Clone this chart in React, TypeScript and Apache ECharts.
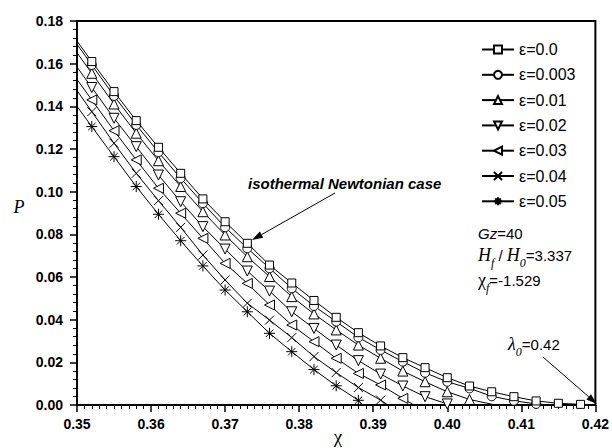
import React, { useEffect, useRef } from "react";
import * as echarts from "echarts";

// χ positions of the markers
const CHI = [0.352, 0.355, 0.358, 0.361, 0.364, 0.367, 0.370, 0.373, 0.376, 0.379, 0.382, 0.385,
  0.388, 0.391, 0.394, 0.397, 0.400, 0.403, 0.406, 0.409, 0.412, 0.415, 0.418];

const NAMES = ["ε=0.0", "ε=0.003", "ε=0.01", "ε=0.02", "ε=0.03", "ε=0.04", "ε=0.05"];

const P_E000 = [0.1610, 0.1469, 0.1333, 0.1208, 0.1086, 0.0966, 0.0859, 0.0758, 0.0656, 0.0572, 0.0490, 0.0411,
  0.0339, 0.0277, 0.0222, 0.0175, 0.0128, 0.0089, 0.0062, 0.0039, 0.0019, 0.0008, 0.0003];
const P_E003 = [0.1594, 0.1449, 0.1313, 0.1185, 0.1063, 0.0946, 0.0833, 0.0735, 0.0641, 0.0547, 0.0464, 0.0391,
  0.0317, 0.0258, 0.0203, 0.0151, 0.0109, 0.0078, 0.0041, 0.0020, 0.0005];
const P_E010 = [0.1555, 0.1411, 0.1274, 0.1145, 0.1024, 0.0906, 0.0797, 0.0695, 0.0602, 0.0508, 0.0427, 0.0352,
  0.0281, 0.0219, 0.0159, 0.0109, 0.0062, 0.0026];
const P_E020 = [0.1488, 0.1344, 0.1211, 0.1078, 0.0953, 0.0836, 0.0731, 0.0628, 0.0534, 0.0437, 0.0359, 0.0281,
  0.0208, 0.0145, 0.0089, 0.0039, 0.0005];
const P_E030 = [0.1430, 0.1286, 0.1149, 0.1016, 0.0899, 0.0781, 0.0664, 0.0570, 0.0469, 0.0375, 0.0297, 0.0219,
  0.0148, 0.0094, 0.0031];
const P_E040 = [0.1375, 0.1227, 0.1086, 0.0958, 0.0833, 0.0703, 0.0586, 0.0477, 0.0398, 0.0316, 0.0227, 0.0152,
  0.0082, 0.0023];
const P_E050 = [0.1305, 0.1164, 0.1024, 0.0894, 0.0770, 0.0652, 0.0539, 0.0437, 0.0336, 0.0250, 0.0166, 0.0090,
  0.0022];

const VALUES = [P_E000, P_E003, P_E010, P_E020, P_E030, P_E040, P_E050];
// curve value at the left edge χ = 0.35 (no marker there)
const START_P = [0.1706, 0.1691, 0.1651, 0.1584, 0.1526, 0.1474, 0.1400];
// χ where each curve reaches P = 0
const END_CHI = [0.420, 0.4140, 0.4065, 0.4010, 0.3955, 0.3920, 0.3885];

const SANS = "'Liberation Sans', Arial, Helvetica, sans-serif";
const SERIF = "'Liberation Serif', 'Times New Roman', serif";

const CROSS = "path://M0,0L10,10M10,0L0,10";
const STAR = "path://M5,0L5,10M0,5L10,5M1.6,1.6L8.4,8.4M8.4,1.6L1.6,8.4";
const MARKERS = [
  { symbol: "rect", rotate: 0, size: 8 },
  { symbol: "circle", rotate: 0, size: 9 },
  { symbol: "triangle", rotate: 0, size: 10 },
  { symbol: "triangle", rotate: 180, size: 10 },
  { symbol: "triangle", rotate: 90, size: 10 },
  { symbol: CROSS, rotate: 0, size: 9 },
  { symbol: STAR, rotate: 0, size: 11 },
];

function arrow(x1: number, y1: number, x2: number, y2: number) {
  const dx = x2 - x1, dy = y2 - y1;
  const len = Math.sqrt(dx * dx + dy * dy);
  const ux = dx / len, uy = dy / len;
  const hl = 11, hw = 3.5;
  const bx = x2 - ux * hl, by = y2 - uy * hl;
  return [
    { type: "line", shape: { x1, y1, x2: bx, y2: by }, style: { stroke: "#000", lineWidth: 1 }, z: 100 },
    {
      type: "polygon",
      shape: { points: [[x2, y2], [bx - uy * hw, by + ux * hw], [bx + uy * hw, by - ux * hw]] },
      style: { fill: "#000" }, z: 100,
    },
  ];
}

export default function App() {
  const ref = useRef<HTMLDivElement>(null);
  useEffect(() => {
    if (!ref.current) return;
    const chart = echarts.init(ref.current, null, { renderer: "svg" });
    const axisCommon = {
      type: "value",
      axisLine: { show: true, onZero: false, lineStyle: { color: "#000", width: 2 } },
      axisTick: { show: true, length: 7, lineStyle: { color: "#000", width: 1.5 } },
      minorTick: { show: true, length: 4, lineStyle: { color: "#000", width: 1 } },
      splitLine: { show: false },
      minorSplitLine: { show: false },
    };
    const rich = {
      it: { fontFamily: SANS, fontStyle: "italic", fontSize: 15, color: "#000", lineHeight: 20 },
      n: { fontFamily: SANS, fontSize: 15, color: "#000", lineHeight: 20 },
      h: { fontFamily: SERIF, fontStyle: "italic", fontSize: 18, color: "#000", lineHeight: 20 },
      g: { fontFamily: SERIF, fontSize: 18, color: "#000", lineHeight: 20 },
      s: { fontFamily: SERIF, fontStyle: "italic", fontSize: 12, color: "#000", lineHeight: 12, verticalAlign: "bottom", padding: [0, 0, -4, 0] },
    };
    chart.setOption({
      animation: false,
      backgroundColor: "#fff",
      grid: { left: 77, right: 14, top: 21, bottom: 43, show: true, borderColor: "#000", borderWidth: 2, backgroundColor: "transparent" },
      xAxis: {
        ...axisCommon,
        min: 0.35, max: 0.42, interval: 0.01,
        minorTick: { ...axisCommon.minorTick, splitNumber: 10 },
        axisLabel: { formatter: (v: number) => v.toFixed(2), fontFamily: SANS, fontWeight: "bold", fontSize: 14, color: "#000", margin: 12 },
      },
      yAxis: {
        ...axisCommon,
        min: 0, max: 0.18, interval: 0.02,
        minorTick: { ...axisCommon.minorTick, splitNumber: 5 },
        axisLabel: { formatter: (v: number) => v.toFixed(2), fontFamily: SANS, fontWeight: "bold", fontSize: 14, color: "#000", margin: 14 },
      },
      legend: {
        orient: "vertical", left: 476, top: 36.5,
        itemWidth: 32, itemHeight: 10, itemGap: 9.3,
        textStyle: { fontFamily: SANS, fontSize: 16, color: "#000", lineHeight: 16 },
        data: NAMES,
      },
      series: VALUES.map((vals, i) => ({
        type: "line",
        name: NAMES[i],
        data: [
          { value: [0.35, START_P[i]], symbol: "none" },
          ...vals.map((v, j) => [CHI[j], v]),
          { value: [END_CHI[i], 0], symbol: "none" },
        ],
        symbol: MARKERS[i].symbol,
        symbolSize: MARKERS[i].size,
        symbolRotate: MARKERS[i].rotate,
        showAllSymbol: true,
        lineStyle: { color: "#000", width: 1 },
        itemStyle: { color: "#fff", borderColor: "#000", borderWidth: 1 },
        emphasis: { disabled: true },
        z: 2 + (6 - i),
      })),
      graphic: [
        { type: "text", x: 19, y: 207, style: { text: "P", fontFamily: SERIF, fontStyle: "italic", fontSize: 18, fill: "#000", align: "center", verticalAlign: "middle" } },
        { type: "text", x: 338, y: 436, style: { text: "χ", fontFamily: SERIF, fontSize: 19, fill: "#000", align: "center", verticalAlign: "middle" } },
        { type: "text", x: 248, y: 183, style: { text: "isothermal Newtonian case", fontFamily: SANS, fontStyle: "italic", fontWeight: "bold", fontSize: 15, fill: "#000", verticalAlign: "middle" } },
        ...arrow(335, 193, 252, 240),
        ...arrow(543, 357, 597, 404),
        { type: "text", x: 478, y: 233, style: { text: "{it|Gz}{n|=40}", rich, verticalAlign: "middle" } },
        { type: "text", x: 478, y: 255, style: { text: "{h|H}{s|f}{n| / }{h|H}{s|0}{n|=3.337}", rich, verticalAlign: "middle" } },
        { type: "text", x: 478, y: 280, style: { text: "{g|χ}{s|f}{n|=-1.529}", rich, verticalAlign: "middle" } },
        { type: "text", x: 508, y: 344, style: { text: "{h|λ}{s|0}{n|=0.42}", rich, verticalAlign: "middle" } },
      ],
    });
    return () => chart.dispose();
  }, []);
  return <div ref={ref} style={{ width: 612, height: 448, position: "absolute", left: 0, top: 0 }} />;
}
